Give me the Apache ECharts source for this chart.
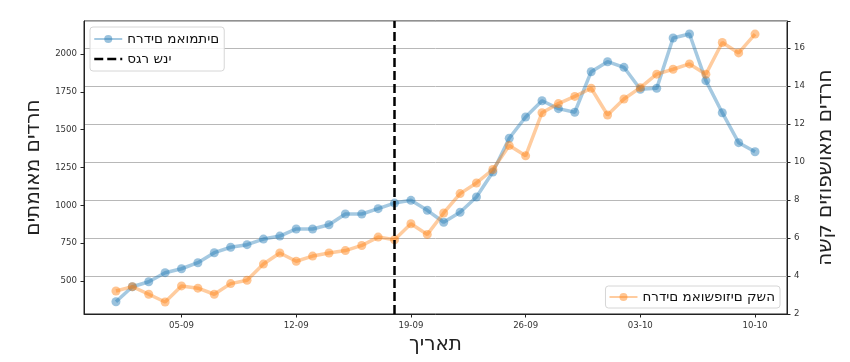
<!DOCTYPE html>
<html><head><meta charset="utf-8">
<script src="https://cdn.jsdelivr.net/npm/echarts@6/dist/echarts.min.js"></script>
<style>html,body{margin:0;padding:0;background:#fff}#c{width:850px;height:362px}</style>
</head><body><div id="c"></div>
<script>
const dates = ['01-09','02-09','03-09','04-09','05-09','06-09','07-09','08-09','09-09','10-09',
  '11-09','12-09','13-09','14-09','15-09','16-09','17-09','18-09','19-09','20-09',
  '21-09','22-09','23-09','24-09','25-09','26-09','27-09','28-09','29-09','30-09',
  '01-10','02-10','03-10','04-10','05-10','06-10','07-10','08-10','09-10','10-10'];
const confirmed = [363,462,495,555,581,621,687,723,740,777,797,844,844,872,943,943,978,1015,
  1033,967,888,954,1055,1220,1443,1584,1691,1639,1615,1883,1949,1912,1767,1773,2106,2132,1824,1612,1414,1354];
const severe = [3.21,3.44,3.04,2.63,3.48,3.36,3.04,3.60,3.78,4.63,5.21,4.78,5.05,5.21,5.34,5.61,6.05,5.91,
  6.75,6.19,7.32,8.34,8.90,9.61,10.87,10.33,12.60,13.08,13.46,13.89,12.48,13.32,13.92,14.63,14.89,15.17,14.63,16.30,15.75,16.74];
const leftTicks = [500,750,1000,1250,1500,1750,2000];
const xTickDates = ['05-09','12-09','19-09','26-09','03-10','10-10'];
const lockdownDate = '18-09';
const nameConfirmed = 'חרדים מאומתים';
const nameSevere = 'חרדים מאושפוזים קשה';
const nameLockdown = 'סגר שני';
const xTitle = 'תאריך';

const FONT = 'DejaVu Sans';
const idx = d => dates.indexOf(d);
const ltr = s => '\u202D' + s + '\u202C';
const chart = echarts.init(document.getElementById('c'));
chart.setOption({
  animation: false,
  backgroundColor: '#fff',
  textStyle: {fontFamily: FONT},
  grid: {left: 84, right: 63, top: 21, bottom: 48, show: true, borderColor: '#222', borderWidth: 1, backgroundColor: 'transparent'},
  legend: [
    {data: [nameConfirmed, {name: nameLockdown, itemStyle: {opacity: 0}, lineStyle: {type: [9, 4], width: 2.5}}],
     orient: 'vertical', left: 90, top: 27, formatter: ltr,
     itemWidth: 28, itemHeight: 10, itemGap: 6, padding: [5, 5, 5, 3],
     backgroundColor: 'rgba(255,255,255,0.85)', borderColor: '#d6d6d6', borderWidth: 1, borderRadius: 3,
     textStyle: {fontFamily: FONT, fontSize: 13.5, color: '#111'}},
    {data: [nameSevere], orient: 'vertical', right: 70, bottom: 54, formatter: ltr,
     itemWidth: 28, itemHeight: 10, padding: [4, 5, 4, 3],
     backgroundColor: 'rgba(255,255,255,0.85)', borderColor: '#d6d6d6', borderWidth: 1, borderRadius: 3,
     textStyle: {fontFamily: FONT, fontSize: 13.5, color: '#111'}}
  ],
  xAxis: {
    type: 'value', min: -1.95, max: dates.length - 1 + 1.95,
    name: xTitle, nameLocation: 'middle', nameGap: 17,
    nameTextStyle: {fontFamily: FONT, fontSize: 20, color: '#222'},
    axisLine: {show: true, onZero: false, lineStyle: {color: '#222'}},
    axisTick: {show: true, length: 3.5, lineStyle: {color: '#222'}, customValues: xTickDates.map(idx)},
    axisLabel: {fontFamily: FONT, fontSize: 8.6, color: '#333', margin: 7,
      customValues: xTickDates.map(idx), formatter: v => dates[Math.round(v)]},
    splitLine: {show: false}
  },
  yAxis: [
    {type: 'value', position: 'left', min: 282, max: 2218,
     name: nameConfirmed, nameLocation: 'middle', nameGap: 31, nameRotate: 90,
     nameTextStyle: {fontFamily: FONT, fontSize: 20, color: '#222'},
     axisLine: {show: true, onZero: false, lineStyle: {color: '#222'}},
     axisTick: {show: true, length: 3.5, lineStyle: {color: '#222'}, customValues: leftTicks},
     axisLabel: {fontFamily: FONT, fontSize: 8.6, color: '#333', margin: 7, customValues: leftTicks,
       formatter: v => String(v)},
     splitLine: {show: false}},
    {type: 'value', position: 'right', min: 2, max: 17.43, interval: 2,
     name: nameSevere, nameLocation: 'middle', nameGap: 17, nameRotate: 90,
     nameTextStyle: {fontFamily: FONT, fontSize: 20, color: '#222'},
     axisLine: {show: true, onZero: false, lineStyle: {color: '#222'}},
     axisTick: {show: true, length: 3.5, lineStyle: {color: '#222'}},
     axisLabel: {fontFamily: FONT, fontSize: 8.6, color: '#333', margin: 7,
       formatter: v => (v > 17 ? '' : String(v))},
     splitLine: {show: true, lineStyle: {color: '#b8b8b8', width: 1}}}
  ],
  series: [
    {name: nameConfirmed, type: 'line', yAxisIndex: 0, z: 2,
     data: confirmed.map((v, i) => [i, v]),
     symbol: 'circle', symbolSize: 9, showSymbol: true,
     itemStyle: {color: '#1f77b4', opacity: 0.45},
     lineStyle: {color: '#1f77b4', width: 3.5, opacity: 0.4}},
    {name: nameSevere, type: 'line', yAxisIndex: 1, z: 3,
     data: severe.map((v, i) => [i, v]),
     symbol: 'circle', symbolSize: 9, showSymbol: true,
     itemStyle: {color: '#ff7f0e', opacity: 0.45},
     lineStyle: {color: '#ff7f0e', width: 3.5, opacity: 0.4}},
    {name: nameLockdown, type: 'line', yAxisIndex: 0, z: 4, data: [],
     symbol: 'none', itemStyle: {color: '#000'},
     lineStyle: {color: '#000', width: 2.5, type: [9, 4]},
     markLine: {silent: true, symbol: 'none', label: {show: false},
       lineStyle: {color: '#000', width: 2.5, type: [9, 4]},
       data: [{xAxis: idx(lockdownDate)}]}}
  ]
});
</script></body></html>
